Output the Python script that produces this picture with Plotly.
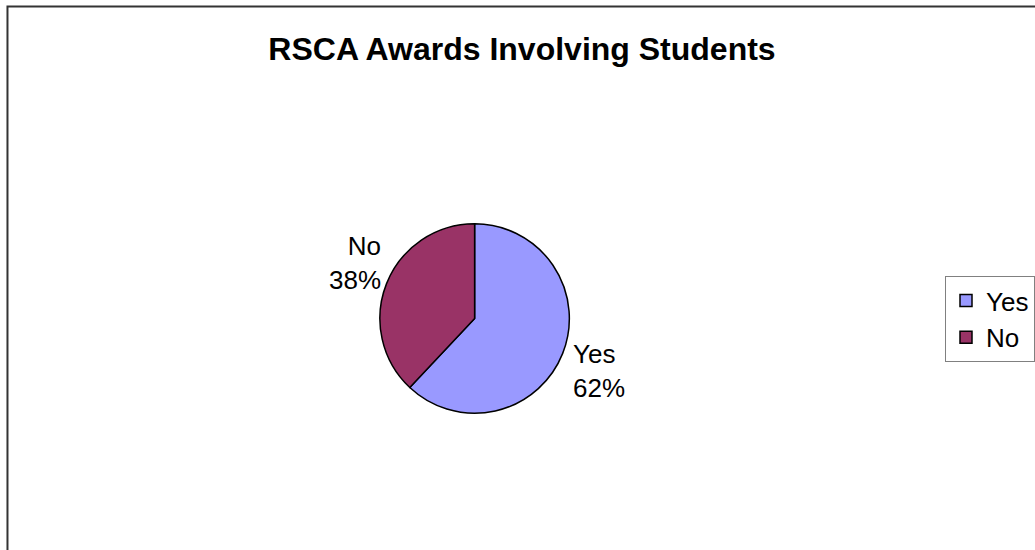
import plotly.graph_objects as go

# Award counts split by whether students were involved (percent shares)
categories = ["Yes", "No"]
shares = [62, 38]
slice_colors = ["#9999FF", "#993366"]
chart_title = "RSCA Awards Involving Students"

W, H = 1035, 550
FONT = "Liberation Sans, Arial, sans-serif"


def px_x(x):
    return x / W


def px_y(y):
    return 1 - y / H


# pie placed as a square box in page pixels
cx, cy, r = 476, 318.5, 95

fig = go.Figure(
    go.Pie(
        labels=categories,
        values=shares,
        sort=False,
        direction="clockwise",
        rotation=0,
        marker=dict(colors=slice_colors, line=dict(color="#000000", width=1.5)),
        textinfo="none",
        hoverinfo="skip",
        domain=dict(
            x=[px_x(cx - r), px_x(cx + r)],
            y=[px_y(cy + r), px_y(cy - r)],
        ),
    )
)

# data labels beside each slice: category name over its percentage
total = sum(shares)
label_spots = {
    "Yes": dict(x=573, y=371, xanchor="left", align="left"),
    "No": dict(x=384, y=263, xanchor="right", align="right"),
}
annotations = []
for cat, val in zip(categories, shares):
    spot = label_spots[cat]
    annotations.append(
        dict(
            text=f"{cat}<br>{round(100 * val / total)}%",
            x=px_x(spot["x"]),
            y=px_y(spot["y"]),
            xref="paper",
            yref="paper",
            xanchor=spot["xanchor"],
            yanchor="middle",
            align=spot["align"],
            showarrow=False,
            font=dict(family=FONT, size=26, color="#000000"),
        )
    )

fig.update_layout(
    width=W,
    height=H,
    margin=dict(l=0, r=0, t=0, b=0),
    paper_bgcolor="#FFFFFF",
    plot_bgcolor="#FFFFFF",
    title=dict(
        text=chart_title,
        x=px_x(523.5),
        y=px_y(49),
        xanchor="center",
        yanchor="middle",
        xref="paper",
        yref="paper",
        font=dict(family=FONT, size=32, color="#000000", weight="bold"),
    ),
    legend=dict(
        x=px_x(948),
        y=px_y(276),
        xanchor="left",
        yanchor="top",
        bordercolor="#808080",
        borderwidth=1,
        bgcolor="#FFFFFF",
        font=dict(family=FONT, size=26, color="#000000"),
        traceorder="normal",
    ),
    showlegend=True,
    annotations=annotations,
    shapes=[
        dict(
            type="rect",
            xref="paper",
            yref="paper",
            x0=px_x(7.5),
            x1=px_x(1060),
            y0=px_y(580),
            y1=px_y(6.5),
            line=dict(color="#333333", width=2),
            fillcolor="rgba(0,0,0,0)",
            layer="below",
        )
    ],
)

fig.write_html("out.html")
